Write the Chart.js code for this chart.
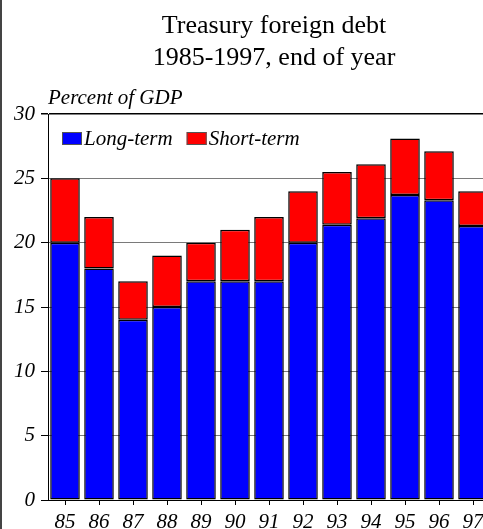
<!DOCTYPE html>
<html lang="en">
<head>
  <meta charset="UTF-8">
  <title>Treasury foreign debt</title>
  <style>
    html, body { margin: 0; padding: 0; background: #fff; overflow: hidden; }
    canvas { display: block; }
  </style>
</head>
<body>
  <canvas id="debtChart" width="490" height="529"></canvas>

  <script src="https://cdn.jsdelivr.net/npm/chart.js"></script>
  <script>
    // end-of-year values, percent of GDP
    const years = ['85', '86', '87', '88', '89', '90', '91', '92', '93', '94', '95', '96', '97'];
    const longTerm = [20, 18, 14, 15, 17, 17, 17, 20, 21.4, 21.9, 23.7, 23.3, 21.3];
    const shortTerm = [5, 4, 3, 4, 3, 4, 5, 4, 4.1, 4.2, 4.4, 3.8, 2.7];
    const yTicks = [0, 5, 10, 15, 20, 25, 30];
    const titleLines = ['Treasury foreign debt', '1985-1997, end of year'];
    const unitLabel = 'Percent of GDP';

    const serif = "'Liberation Serif', 'Times New Roman', serif";

    // titles, unit label, in-plot legend and the left frame line
    const decorations = {
      id: 'decorations',
      afterDraw(chart) {
        const ctx = chart.ctx;
        const area = chart.chartArea;
        ctx.save();
        ctx.fillStyle = '#444';
        ctx.fillRect(0, 0, 2, chart.height);

        ctx.fillStyle = '#000';
        ctx.textAlign = 'center';
        ctx.textBaseline = 'alphabetic';
        ctx.font = '26px ' + serif;
        ctx.fillText(titleLines[0], 274, 33);
        ctx.fillText(titleLines[1], 274, 65);

        ctx.textAlign = 'left';
        ctx.font = 'italic 21px ' + serif;
        ctx.fillText(unitLabel, area.left, 104);

        // legend
        let x = area.left + 14;
        const y = area.top + 18;
        chart.data.datasets.forEach(ds => {
          ctx.fillStyle = ds.backgroundColor;
          ctx.fillRect(x, y, 20, 13);
          ctx.strokeStyle = '#555';
          ctx.lineWidth = 1;
          ctx.strokeRect(x + 0.5, y + 0.5, 19, 12);
          ctx.fillStyle = '#000';
          ctx.font = 'italic 21px ' + serif;
          ctx.fillText(ds.label, x + 22, y + 13);
          x += 22 + ctx.measureText(ds.label).width + 14;
        });
        ctx.restore();
      }
    };

    new Chart(document.getElementById('debtChart'), {
      type: 'bar',
      data: {
        labels: years,
        datasets: [
          {
            label: 'Long-term',
            data: longTerm,
            backgroundColor: '#0000ff',
            borderColor: '#000',
            borderWidth: 1.5,
            borderSkipped: false
          },
          {
            label: 'Short-term',
            data: shortTerm,
            backgroundColor: '#ff0000',
            borderColor: '#000',
            borderWidth: 1.5,
            borderSkipped: false
          }
        ]
      },
      options: {
        responsive: false,
        animation: false,
        layout: { padding: { top: 114, left: 0, right: 0, bottom: 0 } },
        datasets: { bar: { categoryPercentage: 1, barPercentage: 0.87 } },
        plugins: {
          legend: { display: false },
          title: { display: false },
          tooltip: { enabled: false }
        },
        scales: {
          x: {
            stacked: true,
            afterFit: scale => { scale.height = 29; },
            grid: {
              offset: false,
              drawOnChartArea: false,
              drawTicks: true,
              tickLength: 5,
              tickColor: '#000'
            },
            border: { color: '#000', width: 1 },
            ticks: {
              color: '#000',
              padding: 5,
              maxRotation: 0,
              font: { family: serif, size: 21, style: 'italic' }
            }
          },
          y: {
            stacked: true,
            min: yTicks[0],
            max: yTicks[yTicks.length - 1],
            afterFit: scale => { scale.width = 48; },
            afterBuildTicks: scale => { scale.ticks = yTicks.map(v => ({ value: v })); },
            grid: {
              color: c => (c.tick && c.tick.value === 30 ? '#000' : '#7a7a7a'),
              lineWidth: c => (c.tick && c.tick.value === 30 ? 1.5 : 1),
              tickLength: 7,
              tickColor: '#000'
            },
            border: { color: '#000', width: 1 },
            ticks: {
              color: '#000',
              padding: 6,
              font: { family: serif, size: 21, style: 'italic' }
            }
          }
        }
      },
      plugins: [decorations]
    });
  </script>
</body>
</html>
